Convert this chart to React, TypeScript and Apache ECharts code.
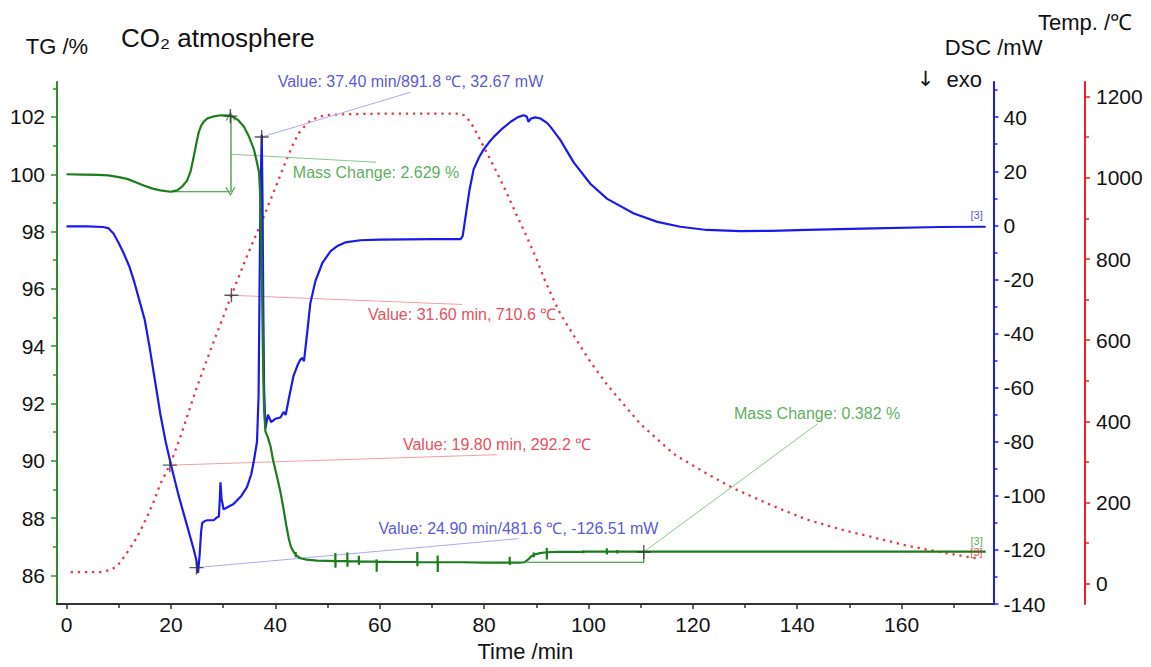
import React, { useEffect, useRef } from "react";
import * as echarts from "echarts";

// ---------- tick labels ----------
const xTicks = [0, 20, 40, 60, 80, 100, 120, 140, 160];
const tgTicks = [86, 88, 90, 92, 94, 96, 98, 100, 102];
const dscTicks = [-140, -120, -100, -80, -60, -40, -20, 0, 20, 40];
const tempTicks = [0, 200, 400, 600, 800, 1000, 1200];

// ---------- series values [time min, value] ----------
const tgData: number[][] = [
  [0, 100.0], [3, 99.99], [6, 99.98], [8, 99.96], [10, 99.9], [11.6, 99.84], [13, 99.74], [14.8, 99.61],
  [16.5, 99.5], [18, 99.44], [19.9, 99.39], [21.2, 99.44], [22.2, 99.58], [23.1, 99.78], [23.8, 100.12],
  [24.4, 100.64], [24.9, 101.1], [25.3, 101.44], [25.8, 101.7], [26.3, 101.84], [27, 101.95], [28, 102.01],
  [29.5, 102.06], [31, 102.05], [32, 102.0], [33, 101.87], [34, 101.66], [35, 101.3], [35.9, 100.87],
  [36.5, 100.4], [36.9, 100.05], [37.1, 99.3], [37.25, 98.2], [37.4, 96.8], [37.55, 94.8], [37.7, 93.0],
  [37.85, 91.8], [38.1, 91.04], [38.6, 90.8], [39.1, 90.5], [39.6, 90.0], [40.3, 89.47], [41.0, 88.9],
  [41.6, 88.3], [42.1, 87.75], [42.6, 87.27], [43.0, 87.0], [43.5, 86.83], [43.9, 86.72], [43.91, 86.82],
  [43.93, 86.64], [43.95, 86.71], [44.8, 86.6], [46, 86.55], [48, 86.52], [50, 86.51], [51.5, 86.5],
  [51.51, 86.78], [51.53, 86.27], [51.55, 86.5], [53.8, 86.5], [53.81, 86.8], [53.83, 86.3], [53.85, 86.5],
  [56, 86.49], [56.01, 86.69], [56.03, 86.37], [56.05, 86.49], [59.4, 86.48], [59.41, 86.56], [59.43, 86.13],
  [59.45, 86.48], [63, 86.47], [67.2, 86.47], [67.21, 86.82], [67.23, 86.32], [67.25, 86.47], [71.1, 86.46],
  [71.11, 86.7], [71.13, 86.12], [71.15, 86.46], [76, 86.46], [80, 86.45], [84.9, 86.45], [84.91, 86.65],
  [84.93, 86.37], [84.95, 86.45], [86.5, 86.45], [87.8, 86.46], [88.4, 86.55], [89.0, 86.66], [89.5, 86.72],
  [89.51, 86.8], [89.53, 86.64], [89.55, 86.72], [90.5, 86.77], [91.5, 86.8], [92.0, 86.81], [92.01, 86.96],
  [92.03, 86.56], [92.05, 86.81], [94, 86.82], [99, 86.83], [99.01, 86.88], [99.03, 86.78], [99.05, 86.83],
  [103.5, 86.83], [103.51, 86.95], [103.53, 86.73], [103.55, 86.83], [105.5, 86.83], [105.51, 86.89],
  [105.53, 86.77], [105.55, 86.83], [110, 86.83], [120, 86.83], [140, 86.83], [160, 86.83], [176.1, 86.83],
];

const dscData: number[][] = [
  [0, -0.4], [4, -0.4], [7, -0.6], [8, -1], [9, -3], [10, -6.5], [11, -10.5], [12, -15], [13, -21],
  [14, -28], [15, -35], [16, -46], [17, -58], [18, -70], [19, -80], [20, -88.4], [21.5, -100], [23.1, -111],
  [24.4, -120], [24.9, -124], [25.2, -128.5], [25.5, -122], [25.8, -113], [26.0, -110], [26.5, -109.3],
  [27, -109], [28.2, -109], [28.8, -108], [29.2, -107.6], [29.4, -100], [29.5, -95], [29.7, -101],
  [30.1, -105], [31, -104], [32, -103], [33.5, -100], [34.6, -96.7], [35.4, -92], [35.9, -87], [36.5, -80],
  [36.8, -63], [37.0, -20], [37.2, 15], [37.4, 33.5], [37.55, 10], [37.7, -30], [37.85, -60], [38.1, -75],
  [38.6, -70], [39.2, -72.7], [40, -71.5], [41.0, -71], [41.6, -69], [42.0, -70], [42.6, -64], [43.5, -55.6],
  [44.2, -52], [44.8, -49.6], [45.2, -49], [45.5, -50.2], [46.1, -39.9], [46.7, -29], [47.7, -20.5],
  [49, -14], [50.6, -9.5], [52, -7.5], [53.4, -6.3], [56.3, -5.5], [60, -5.3], [65, -5.2], [70, -5.1],
  [75.5, -5.1], [75.9, -4], [76.4, 2.5], [77.2, 13], [78.0, 20.7], [79.0, 25], [79.9, 28], [81, 30.8],
  [81.9, 32.8], [83.5, 35.8], [85.1, 38.3], [86.5, 40], [87.6, 40.7], [88.2, 40.2], [88.5, 38.3], [89, 39.5],
  [89.8, 39.9], [90.8, 39.5], [92.1, 37.8], [92.7, 36.5], [94.6, 31.6], [97.2, 23.2], [100.4, 15.3],
  [103.6, 9.8], [108.7, 4.4], [113.2, 1.3], [117.6, -0.5], [122.7, -1.7], [129.1, -2.1], [135, -2.0],
  [141.9, -1.7], [154.6, -1.1], [167.4, -0.6], [176.1, -0.5],
];

const tempData: number[][] = [
  [0.8, 29], [3, 29], [6.5, 29], [8.4, 34], [9.5, 42], [10.3, 53], [11.5, 75], [12.9, 102], [14.2, 132],
  [15.5, 167], [16.8, 205], [18, 247], [19.8, 292.2], [21.8, 361], [24.9, 481.6], [28, 590], [31.6, 710.6],
  [34.5, 805], [37.4, 891.8], [40, 975], [42, 1040], [43.5, 1085], [44.5, 1110], [45.5, 1125], [46.5, 1138],
  [48, 1149], [50, 1155], [55, 1157], [60, 1158], [70, 1158], [75.5, 1158], [76.5, 1152], [77.3, 1138],
  [78, 1124], [80, 1075], [82, 1025], [84, 972], [86, 915], [88, 860], [90, 802], [91.5, 752], [93.3, 700],
  [94.5, 668], [95.8, 640], [97.2, 611], [100.4, 546], [103.6, 490], [106.8, 441], [110, 393], [116.3, 320],
  [122.7, 271], [127.8, 235], [135.5, 191], [141.9, 158], [148.3, 134], [154.7, 114], [161, 94], [167.4, 78],
  [175.1, 61],
];

// ---------- annotations (data units) ----------
const tgStep1 = [[19.9, 99.39], [31.4, 99.39]];
const tgArrow = [[31.4, 102.03], [31.4, 99.39]];
const tgLeader1 = [[31.4, 100.7], [59.3, 100.42]];
const tgStep2 = [[88.2, 86.46], [110.6, 86.46], [110.6, 86.82]];
const tgLeader2 = [[110.6, 86.82], [143.8, 91.28]];
const tgCrosses = [[31.4, 102.03], [110.6, 86.82]];
const tgTexts = ["Mass Change: 2.629 %", "Mass Change: 0.382 %"];

const dscLeader1 = [[37.4, 32.67], [65.9, 49.2]];
const dscLeader2 = [[24.9, -126.51], [86.6, -115.8]];
const dscCrosses = [[37.4, 32.67], [24.9, -126.51]];
const dscTexts = ["Value: 37.40 min/891.8 ℃, 32.67 mW", "Value: 24.90 min/481.6 ℃, -126.51 mW"];

const tempLeader1 = [[31.6, 710.6], [75.8, 688]];
const tempLeader2 = [[19.8, 292.2], [82.5, 318]];
const tempCrosses = [[31.6, 710.6], [19.8, 292.2]];
const tempTexts = ["Value: 31.60 min, 710.6 ℃", "Value: 19.80 min, 292.2 ℃"];

const endTag = "[3]";

const FONT = "'Liberation Sans', Arial, Helvetica, sans-serif";
const GREEN = "#1b7d1b";
const GREEN_AX = "#2a8f2a";
const GREEN_TXT = "#2e9a2e";
const GREEN_LEAD = "#8cc88c";
const BLUE = "#1a1aee";
const BLUE_AX = "#1a1aff";
const BLUE_TXT = "#2a2ad6";
const BLUE_LEAD = "#aaaaf2";
const RED = "#e63844";
const RED_AX = "#ee2222";
const RED_TXT = "#e02030";
const RED_LEAD = "#f2a0a0";
const CROSS = "path://M0,4.5H10V5.5H0Z M4.5,0H5.5V10H4.5Z";
const CHEVRON = "path://M0,10 L5,0 L10,10 L8.6,10 L5,2.8 L1.4,10 Z";

function leader(data: number[][], y: number, color: string, width = 1) {
  return {
    type: "line", xAxisIndex: 0, yAxisIndex: y, data, showSymbol: false, symbol: "none",
    silent: true, z: 3, lineStyle: { color, width }, emphasis: { disabled: true },
  };
}

function crosses(data: number[][], y: number) {
  return {
    type: "scatter", xAxisIndex: 0, yAxisIndex: y, data, symbol: CROSS, symbolSize: 14,
    silent: true, z: 6, itemStyle: { color: "#333" }, emphasis: { disabled: true },
  };
}

function textAt(point: number[], y: number, text: string, color: string, position: string) {
  return {
    type: "scatter", xAxisIndex: 0, yAxisIndex: y, data: [point], symbolSize: 1, silent: true, z: 7,
    itemStyle: { color: "rgba(0,0,0,0)" }, emphasis: { disabled: true },
    label: {
      show: true, position, distance: 1, formatter: text, color, fontSize: 16, lineHeight: 18,
      fontFamily: FONT,
    },
  };
}

function endLabel(point: number[], y: number, color: string, offset: number[]) {
  return {
    type: "scatter", xAxisIndex: 0, yAxisIndex: y, data: [point], symbolSize: 1, silent: true, z: 7,
    itemStyle: { color: "rgba(0,0,0,0)" }, emphasis: { disabled: true },
    label: {
      show: true, position: "top", distance: 2, offset, formatter: endTag, color, fontSize: 11,
      fontFamily: FONT,
    },
  };
}

export default function App() {
  const ref = useRef<HTMLDivElement>(null);
  useEffect(() => {
    if (!ref.current) return;
    const chart = echarts.init(ref.current, undefined, { renderer: "svg" });
    const plain = (v: number) => String(v);
    const tickLabel = { color: "#111", fontSize: 21, fontFamily: FONT, formatter: plain };
    const nameStyle = { color: "#111", fontSize: 22, fontFamily: FONT };
    const option: any = {
      animation: false,
      backgroundColor: "#fff",
      title: {
        text: "CO₂ atmosphere", left: 121, top: 25, padding: 0,
        textStyle: { color: "#111", fontSize: 26, fontWeight: "normal", fontFamily: FONT },
      },
      grid: { left: 57, right: 157.5, top: 82, bottom: 54.5, containLabel: false },
      xAxis: [{
        type: "value", min: -1.82, max: 177.6, splitNumber: 9,
        axisLine: { onZero: false, lineStyle: { color: "#333", width: 2 } },
        axisTick: { show: true, customValues: xTicks, length: 5, lineStyle: { color: "#333", width: 1.5 } },
        minorTick: { show: true, splitNumber: 2, length: 4, lineStyle: { color: "#333", width: 1.5 } },
        axisLabel: { customValues: xTicks, margin: 10, ...tickLabel },
        splitLine: { show: false },
        name: "Time /min", nameLocation: "middle", nameGap: 31, nameTextStyle: nameStyle,
      }],
      yAxis: [
        {
          type: "value", position: "left", min: 85, max: 103.22, splitNumber: 9,
          axisLine: { show: true, onZero: false, lineStyle: { color: GREEN_AX, width: 2 } },
          axisTick: { show: true, customValues: tgTicks, length: 6, lineStyle: { color: GREEN_AX, width: 1.5 } },
          minorTick: { show: true, splitNumber: 2, length: 4, lineStyle: { color: GREEN_AX, width: 1.5 } },
          axisLabel: { customValues: tgTicks, margin: 12, ...tickLabel },
          splitLine: { show: false },
          name: "TG /%", nameLocation: "end", nameGap: 25, nameTextStyle: nameStyle,
        },
        {
          type: "value", position: "right", min: -140, max: 53, splitNumber: 9,
          axisLine: { show: true, onZero: false, lineStyle: { color: BLUE_AX, width: 2 } },
          axisTick: { show: true, customValues: dscTicks, length: 5, lineStyle: { color: BLUE_AX, width: 1.5 } },
          minorTick: { show: true, splitNumber: 2, length: 4, lineStyle: { color: BLUE_AX, width: 1.5 } },
          axisLabel: { customValues: dscTicks, margin: 10, ...tickLabel },
          splitLine: { show: false },
          name: "DSC /mW", nameLocation: "end", nameGap: 24, nameTextStyle: nameStyle,
        },
        {
          type: "value", position: "right", offset: 91.5, min: -50, max: 1236, splitNumber: 6,
          axisLine: { show: true, onZero: false, lineStyle: { color: RED_AX, width: 2 } },
          axisTick: { show: true, customValues: tempTicks, length: 5, lineStyle: { color: RED_AX, width: 1.5 } },
          minorTick: { show: true, splitNumber: 2, length: 4, lineStyle: { color: RED_AX, width: 1.5 } },
          axisLabel: { customValues: tempTicks, margin: 11, ...tickLabel },
          splitLine: { show: false },
          name: "Temp. /℃", nameLocation: "end", nameGap: 49, nameTextStyle: nameStyle,
        },
      ],
      graphic: [{
        type: "text", right: 1151 - 982, top: 68,
        style: {
          text: "{a|↓}  exo", fill: "#111", font: `22px ${FONT}`,
          rich: { a: { fontFamily: "'DejaVu Sans', sans-serif", fontSize: 21, fill: "#111" } },
        },
      }],
      series: [
        {
          type: "line", name: "Temp", xAxisIndex: 0, yAxisIndex: 2, data: tempData, showSymbol: false,
          symbol: "none", z: 2, lineStyle: { color: RED, width: 2.3, type: [2.3, 4.8] }, silent: true,
        },
        {
          type: "line", name: "DSC", xAxisIndex: 0, yAxisIndex: 1, data: dscData, showSymbol: false,
          symbol: "none", z: 4, lineStyle: { color: BLUE, width: 2.2 }, silent: true,
        },
        {
          type: "line", name: "TG", xAxisIndex: 0, yAxisIndex: 0, data: tgData, showSymbol: false,
          symbol: "none", z: 5, lineStyle: { color: GREEN, width: 2.2 }, silent: true,
        },
        leader(tgStep1, 0, GREEN_AX, 1.2),
        {
          type: "line", xAxisIndex: 0, yAxisIndex: 0, data: tgArrow, showSymbol: false, symbol: "none",
          silent: true, z: 3, lineStyle: { opacity: 0 },
          markLine: {
            silent: true, symbol: [CHEVRON, CHEVRON], symbolSize: [10, 9], animation: false,
            label: { show: false }, emphasis: { disabled: true },
            lineStyle: { color: "#5aa55a", width: 1.5, type: "solid" },
            data: [[{ coord: tgArrow[0] }, { coord: tgArrow[1] }]],
          },
        },
        leader(tgLeader1, 0, GREEN_LEAD),
        leader(tgStep2, 0, GREEN_AX, 1.2),
        leader(tgLeader2, 0, GREEN_LEAD),
        leader(dscLeader1, 1, BLUE_LEAD),
        leader(dscLeader2, 1, BLUE_LEAD),
        leader(tempLeader1, 2, RED_LEAD),
        leader(tempLeader2, 2, RED_LEAD),
        crosses(tgCrosses, 0),
        crosses(dscCrosses, 1),
        crosses(tempCrosses, 2),
        textAt(tgLeader1[1], 0, tgTexts[0], GREEN_TXT, "bottom"),
        textAt(tgLeader2[1], 0, tgTexts[1], GREEN_TXT, "top"),
        textAt(dscLeader1[1], 1, dscTexts[0], BLUE_TXT, "top"),
        textAt(dscLeader2[1], 1, dscTexts[1], BLUE_TXT, "top"),
        textAt(tempLeader1[1], 2, tempTexts[0], RED_TXT, "bottom"),
        textAt(tempLeader2[1], 2, tempTexts[1], RED_TXT, "top"),
        endLabel(dscData[dscData.length - 1], 1, BLUE_TXT, [-9, -4]),
        endLabel(tgData[tgData.length - 1], 0, GREEN_TXT, [-9, -3]),
        endLabel(tempData[tempData.length - 1], 2, RED_TXT, [-4, 1]),
      ],
    };
    chart.setOption(option);
    return () => chart.dispose();
  }, []);
  return (
    <div
      ref={ref}
      style={{ position: "fixed", left: 0, top: 0, width: 1151, height: 667, background: "#fff" }}
    />
  );
}
